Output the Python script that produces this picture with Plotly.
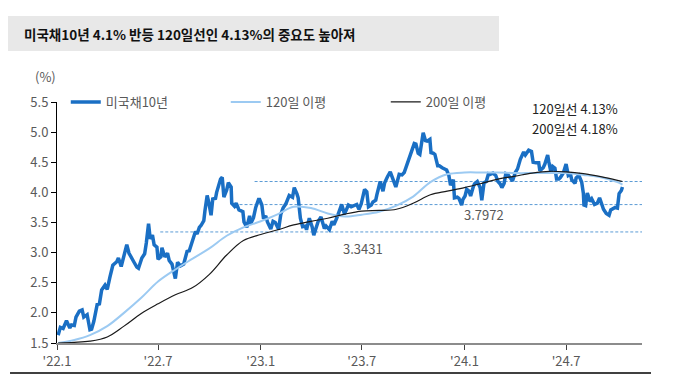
import plotly.graph_objects as go

# ---- data ----
ust_dates = [
 "2022-01-03","2022-01-07","2022-01-12","2022-01-18","2022-01-24","2022-01-27","2022-02-01","2022-02-04","2022-02-10","2022-02-15",
 "2022-02-18","2022-02-24","2022-03-01","2022-03-04","2022-03-08","2022-03-14","2022-03-18","2022-03-22","2022-03-28","2022-04-01",
 "2022-04-06","2022-04-11","2022-04-18","2022-04-21","2022-04-26","2022-05-02","2022-05-06","2022-05-10","2022-05-13","2022-05-19",
 "2022-05-24","2022-05-27","2022-06-02","2022-06-07","2022-06-10","2022-06-14","2022-06-17","2022-06-21","2022-06-24","2022-06-29",
 "2022-07-01","2022-07-06","2022-07-08","2022-07-13","2022-07-18","2022-07-21","2022-07-26","2022-07-29","2022-08-01","2022-08-05",
 "2022-08-10","2022-08-16","2022-08-22","2022-08-26","2022-08-31","2022-09-06","2022-09-09","2022-09-13","2022-09-16","2022-09-21",
 "2022-09-23","2022-09-27","2022-09-30","2022-10-04","2022-10-07","2022-10-12","2022-10-14","2022-10-19","2022-10-21","2022-10-24",
 "2022-10-27","2022-11-01","2022-11-04","2022-11-09","2022-11-10","2022-11-15","2022-11-18","2022-11-23","2022-11-30","2022-12-02",
 "2022-12-07","2022-12-12","2022-12-14","2022-12-19","2022-12-23","2022-12-28","2022-12-30",
 "2023-01-03","2023-01-06","2023-01-10","2023-01-13","2023-01-19","2023-01-23","2023-01-27","2023-02-02","2023-02-06","2023-02-10",
 "2023-02-15","2023-02-21","2023-02-27","2023-03-02","2023-03-07","2023-03-09","2023-03-13","2023-03-17","2023-03-22","2023-03-24",
 "2023-03-29","2023-04-03","2023-04-06","2023-04-11","2023-04-14","2023-04-19","2023-04-25","2023-04-28","2023-05-04","2023-05-09",
 "2023-05-12","2023-05-17","2023-05-22","2023-05-26","2023-05-31","2023-06-02","2023-06-07","2023-06-12","2023-06-16","2023-06-22",
 "2023-06-26","2023-06-30","2023-07-06","2023-07-10","2023-07-13","2023-07-18","2023-07-21","2023-07-26","2023-07-28","2023-08-03",
 "2023-08-08","2023-08-11","2023-08-16","2023-08-21","2023-08-25","2023-08-31","2023-09-06","2023-09-11","2023-09-15","2023-09-21",
 "2023-09-27","2023-10-03","2023-10-06","2023-10-10","2023-10-13","2023-10-17","2023-10-19","2023-10-23","2023-10-26","2023-10-31",
 "2023-11-02","2023-11-06","2023-11-09","2023-11-14","2023-11-17","2023-11-22","2023-11-27","2023-11-30","2023-12-04","2023-12-07",
 "2023-12-12","2023-12-14","2023-12-19","2023-12-22","2023-12-27","2023-12-29",
 "2024-01-02","2024-01-05","2024-01-09","2024-01-12","2024-01-17","2024-01-19","2024-01-24","2024-01-29","2024-02-01","2024-02-05",
 "2024-02-09","2024-02-13","2024-02-16","2024-02-21","2024-02-26","2024-03-01","2024-03-05","2024-03-08","2024-03-12","2024-03-15",
 "2024-03-19","2024-03-21","2024-03-27","2024-04-01","2024-04-05","2024-04-10","2024-04-16","2024-04-19","2024-04-25","2024-04-30",
 "2024-05-03","2024-05-08","2024-05-13","2024-05-15","2024-05-21","2024-05-24","2024-05-29","2024-05-31","2024-06-04","2024-06-07",
 "2024-06-11","2024-06-14","2024-06-18","2024-06-21","2024-06-26","2024-07-01","2024-07-05","2024-07-09","2024-07-11","2024-07-17",
 "2024-07-19","2024-07-24","2024-07-29","2024-08-01","2024-08-02","2024-08-05","2024-08-08","2024-08-13","2024-08-16","2024-08-21",
 "2024-08-26","2024-08-30","2024-09-04","2024-09-06","2024-09-11","2024-09-16","2024-09-19","2024-09-24","2024-09-27","2024-10-01",
 "2024-10-03","2024-10-04","2024-10-08","2024-10-10",
]
ust_10y = [
 1.63,1.76,1.74,1.87,1.75,1.80,1.79,1.93,2.03,2.05,
 1.93,1.97,1.72,1.73,1.86,2.14,2.15,2.38,2.46,2.39,
 2.60,2.79,2.85,2.91,2.77,2.99,3.13,2.99,2.93,2.84,
 2.76,2.74,2.91,2.98,3.16,3.48,3.23,3.29,3.13,3.09,
 2.89,2.93,3.08,2.93,2.99,2.87,2.81,2.67,2.57,2.84,
 2.78,2.81,3.02,3.03,3.19,3.35,3.31,3.42,3.45,3.53,
 3.69,3.95,3.83,3.62,3.89,3.90,4.00,4.13,4.22,4.25,
 3.92,4.04,4.16,4.09,3.82,3.77,3.82,3.71,3.68,3.51,
 3.42,3.61,3.48,3.58,3.75,3.88,3.88,
 3.79,3.56,3.61,3.51,3.39,3.52,3.50,3.39,3.64,3.74,
 3.81,3.95,3.92,4.08,3.97,3.91,3.57,3.43,3.44,3.38,
 3.57,3.43,3.29,3.42,3.52,3.59,3.40,3.44,3.38,3.52,
 3.46,3.57,3.72,3.80,3.64,3.69,3.79,3.76,3.77,3.80,
 3.72,3.81,4.05,4.01,3.76,3.79,3.84,3.87,3.96,4.18,
 4.02,4.16,4.26,4.34,4.24,4.09,4.30,4.29,4.33,4.49,
 4.61,4.81,4.80,4.65,4.63,4.84,4.99,4.86,4.85,4.88,
 4.66,4.65,4.63,4.44,4.44,4.41,4.39,4.37,4.28,4.12,
 4.21,3.91,3.92,3.90,3.79,3.88,
 3.94,4.05,4.02,3.94,4.10,4.14,4.18,4.08,3.87,4.16,
 4.18,4.31,4.30,4.32,4.28,4.18,4.14,4.08,4.15,4.31,
 4.29,4.27,4.19,4.33,4.39,4.55,4.67,4.62,4.70,4.68,
 4.50,4.49,4.49,4.36,4.41,4.47,4.62,4.51,4.33,4.43,
 4.40,4.22,4.22,4.25,4.32,4.47,4.28,4.30,4.21,4.15,
 4.24,4.28,4.17,3.98,3.79,3.78,3.99,3.85,3.89,3.80,
 3.82,3.91,3.76,3.72,3.65,3.62,3.71,3.74,3.75,3.74,
 3.85,3.98,4.03,4.09,
]

ma_dates = [
 "2022-01-03","2022-02-01","2022-03-01","2022-04-01","2022-05-01","2022-06-01","2022-07-01","2022-08-01","2022-09-01","2022-10-01",
 "2022-11-01","2022-12-01","2023-01-01","2023-02-01","2023-03-01","2023-04-01","2023-05-01","2023-06-01","2023-07-01","2023-08-01",
 "2023-09-01","2023-10-01","2023-11-01","2023-12-01","2024-01-01","2024-02-01","2024-03-01","2024-04-01","2024-05-01","2024-06-01",
 "2024-07-01","2024-08-01","2024-09-01","2024-10-01","2024-10-10",
]
ma120 = [
 1.50,1.55,1.63,1.78,2.00,2.25,2.52,2.72,2.90,3.07,
 3.28,3.42,3.52,3.64,3.76,3.74,3.65,3.60,3.63,3.68,
 3.78,3.93,4.17,4.30,4.33,4.33,4.33,4.32,4.32,4.32,
 4.32,4.29,4.25,4.17,4.13,
]
ma200 = [
 1.50,1.51,1.53,1.60,1.78,1.99,2.15,2.30,2.42,2.64,
 2.96,3.20,3.30,3.38,3.46,3.52,3.57,3.64,3.69,3.70,
 3.72,3.82,3.96,4.02,4.08,4.15,4.22,4.27,4.32,4.35,
 4.34,4.31,4.26,4.20,4.18,
]

ref_levels = [4.18, 3.7972, 3.3431]
ref_starts = ["2022-12-21", "2022-11-24", "2022-07-05"]
ref_end = "2024-11-14"

x_tick_vals = ["2022-01-01","2022-07-01","2023-01-01","2023-07-01","2024-01-01","2024-07-01"]
x_tick_text = ["'22.1","'22.7","'23.1","'23.7","'24.1","'24.7"]
y_tick_vals = [1.5,2.0,2.5,3.0,3.5,4.0,4.5,5.0,5.5]

FONT = "Noto Sans CJK KR"
GRAY = "#595959"

fig = go.Figure()

for lvl, st in zip(ref_levels, ref_starts):
    fig.add_trace(go.Scatter(x=[st, ref_end], y=[lvl, lvl], mode="lines",
                             line=dict(color="#5b9bd5", width=1, dash="3px,2px"),
                             showlegend=False, hoverinfo="skip"))

fig.add_trace(go.Scatter(x=ust_dates, y=ust_10y, mode="lines", name="미국채10년",
                         line=dict(color="#1a6fc4", width=3.5)))
fig.add_trace(go.Scatter(x=ma_dates, y=ma120, mode="lines", name="120일 이평",
                         line=dict(color="#9ccaf2", width=2, shape="spline")))
fig.add_trace(go.Scatter(x=ma_dates, y=ma200, mode="lines", name="200일 이평",
                         line=dict(color="#1a1a1a", width=1.2, shape="spline")))

fig.update_layout(
    width=674, height=371,
    margin=dict(l=49, r=40, t=94, b=36, autoexpand=False),
    paper_bgcolor="white", plot_bgcolor="white",
    font=dict(family=FONT, size=13, color=GRAY),
    legend=dict(orientation="h", x=0.015, y=1.0, xanchor="left", yanchor="middle",
                entrywidth=115, entrywidthmode="pixels",
                font=dict(family=FONT, size=13, color=GRAY), bgcolor="rgba(0,0,0,0)"),
    xaxis=dict(type="date", range=["2022-01-01", ref_end], tickvals=x_tick_vals, ticktext=x_tick_text,
               showline=True, linecolor="#8c8c8c", linewidth=2, ticks="outside", ticklen=5,
               tickcolor="#404040", showgrid=False, zeroline=False, automargin=False,
               tickfont=dict(family=FONT, size=13, color=GRAY)),
    yaxis=dict(range=[1.5, 5.5], tickvals=y_tick_vals, tickformat=".1f",
               showline=True, linecolor="#000000", linewidth=1, ticks="outside", ticklen=5,
               tickcolor="#000000", showgrid=False, zeroline=False, automargin=False,
               tickfont=dict(family=FONT, size=13, color=GRAY)),
    shapes=[
        dict(type="rect", xref="paper", yref="paper", x0=-0.0838, x1=0.7556, y0=1.2116, y1=1.3568,
             fillcolor="#e8e8e8", line=dict(width=0), layer="below"),
        dict(type="line", xref="paper", yref="paper", x0=-0.0803, x1=1.0154, y0=-0.1245, y1=-0.1245,
             line=dict(color="#000000", width=1.5)),
    ],
    annotations=[
        dict(text="<b>미국채10년 4.1% 반등 120일선인 4.13%의 중요도 높아져</b>", xref="paper", yref="paper",
             x=-0.059, y=1.284, xanchor="left", yanchor="middle", showarrow=False,
             font=dict(family=FONT, size=13.5, color="#111111")),
        dict(text="(%)", xref="paper", yref="paper", x=-0.02, y=1.104, xanchor="center", yanchor="middle",
             showarrow=False, font=dict(family=FONT, size=13, color=GRAY)),
        dict(text="120일선 4.13%", xref="paper", yref="paper", x=0.8085, y=0.975, xanchor="left",
             yanchor="middle", showarrow=False, font=dict(family=FONT, size=13, color="#222222")),
        dict(text="200일선 4.18%", xref="paper", yref="paper", x=0.8085, y=0.888, xanchor="left",
             yanchor="middle", showarrow=False, font=dict(family=FONT, size=13, color="#222222")),
        dict(text="3.3431", xref="paper", yref="y", x=0.4855, y=3.07, xanchor="left", yanchor="middle",
             showarrow=False, font=dict(family=FONT, size=13, color=GRAY)),
        dict(text="3.7972", xref="paper", yref="y", x=0.6923, y=3.636, xanchor="left", yanchor="middle",
             showarrow=False, font=dict(family=FONT, size=13, color=GRAY)),
    ],
)

fig.write_html("out.html")
